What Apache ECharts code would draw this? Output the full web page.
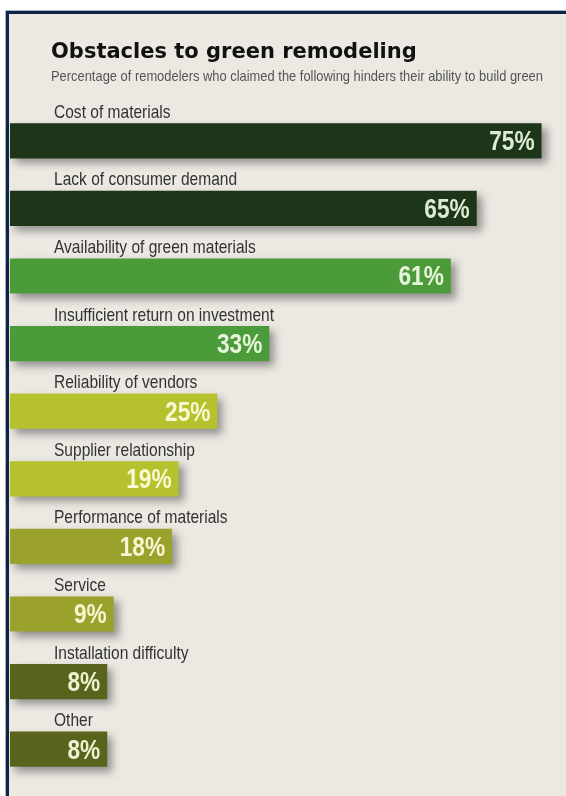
<!DOCTYPE html>
<html>
<head>
<meta charset="utf-8">
<script src="https://cdn.jsdelivr.net/npm/echarts@6/dist/echarts.min.js"></script>
<style>
  html, body { margin: 0; padding: 0; background: #ffffff; }
  #chart { width: 566px; height: 796px; }
</style>
</head>
<body>
<div id="chart"></div>
<script>
// ---- data ----
const categories = [
  'Cost of materials',
  'Lack of consumer demand',
  'Availability of green materials',
  'Insufficient return on investment',
  'Reliability of vendors',
  'Supplier relationship',
  'Performance of materials',
  'Service',
  'Installation difficulty',
  'Other'
];
const percentages = [75, 65, 61, 33, 25, 19, 18, 9, 8, 8];
const titleText = 'Obstacles to green remodeling';
const subtitleText = 'Percentage of remodelers who claimed the following hinders their ability to build green';

// ---- style ----
const barColors = ['#1d361a', '#1d361a', '#4b9b3a', '#4b9b3a', '#b6c22d', '#b6c22d', '#9aa22c', '#9aa22c', '#59631b', '#59631b'];
const labelColors = ['#dcebd2', '#dcebd2', '#e8f5dc', '#e8f5dc', '#fbf8d4', '#fbf8d4', '#f8f5d2', '#f8f5d2', '#eef0d2', '#eef0d2'];
const X_MIN = -7, X_MAX = 78;
const SANS = "'Liberation Sans', Arial, Helvetica, sans-serif";

const chart = echarts.init(document.getElementById('chart'), null, { renderer: 'canvas' });

chart.setOption({
  backgroundColor: '#ffffff',
  animation: false,
  graphic: [
    { type: 'rect', z: -100, silent: true, shape: { x: 5, y: 10, width: 561, height: 786 }, style: { fill: '#a9b5c6' } },
    { type: 'rect', z: -99, silent: true, shape: { x: 6, y: 11, width: 560, height: 785 }, style: { fill: '#0f2444' } },
    { type: 'rect', z: -98, silent: true, shape: { x: 9, y: 14, width: 557, height: 782 }, style: { fill: '#ece9e3' } },
    {
      type: 'text', z: 10, silent: true,
      x: 51, y: 77, scaleX: 0.86,
      style: {
        text: subtitleText,
        font: '15px ' + SANS,
        fill: '#555555',
        align: 'left',
        verticalAlign: 'middle'
      }
    }
  ],
  title: {
    text: titleText,
    left: 46,
    top: 35,
    textStyle: {
      fontFamily: "'DejaVu Sans', sans-serif",
      fontWeight: 'bold',
      fontSize: 21,
      lineHeight: 26,
      color: '#111111'
    }
  },
  grid: { left: 10, right: 5, top: 107, bottom: 13, containLabel: false },
  xAxis: {
    type: 'value',
    min: X_MIN,
    max: X_MAX,
    show: false
  },
  yAxis: {
    type: 'category',
    inverse: true,
    data: categories,
    axisLine: { show: false },
    axisTick: { show: false },
    splitLine: { show: false },
    axisLabel: { show: false }
  },
  series: [{
    type: 'custom',
    coordinateSystem: 'cartesian2d',
    encode: { x: 0, y: 1 },
    data: percentages.map((v, i) => [v, i]),
    renderItem: function (params, api) {
      const v = api.value(0);
      const idx = api.value(1);
      const start = api.coord([X_MIN, idx]);
      const end = api.coord([v, idx]);
      const band = api.size([0, 1])[1];
      const h = band * 0.52;
      return {
        type: 'group',
        children: [
          {
            type: 'rect',
            shape: { x: start[0], y: end[1] - h / 2, width: end[0] - start[0], height: h },
            style: {
              fill: barColors[idx],
              shadowBlur: 8,
              shadowOffsetX: 5,
              shadowOffsetY: 5,
              shadowColor: 'rgba(40,40,40,0.45)'
            }
          },
          {
            type: 'text',
            x: end[0] - 7,
            y: end[1] + 2,
            scaleX: 0.84,
            style: {
              text: v + '%',
              fill: labelColors[idx],
              font: 'bold 27px ' + SANS,
              align: 'right',
              verticalAlign: 'middle'
            }
          },
          {
            type: 'text',
            x: start[0] + 44,
            y: end[1] - band * 0.415,
            scaleX: 0.84,
            style: {
              text: categories[idx],
              fill: '#333333',
              font: '18.5px ' + SANS,
              align: 'left',
              verticalAlign: 'middle'
            }
          }
        ]
      };
    }
  }]
});
</script>
</body>
</html>
